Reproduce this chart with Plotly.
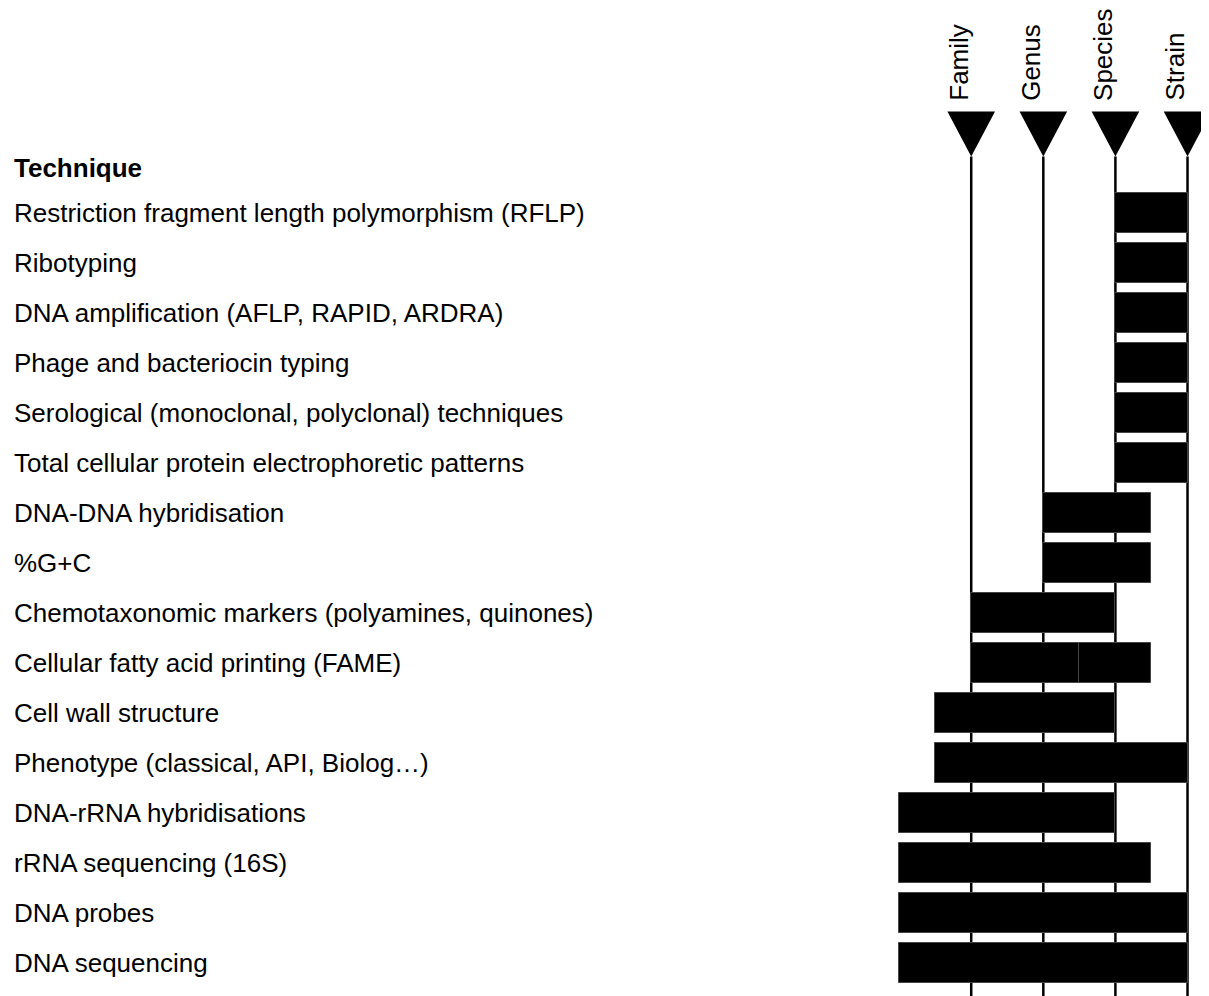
import plotly.graph_objects as go

# ---- data ----
techniques = [
    "Restriction fragment length polymorphism (RFLP)",
    "Ribotyping",
    "DNA amplification (AFLP, RAPID, ARDRA)",
    "Phage and bacteriocin typing",
    "Serological (monoclonal, polyclonal) techniques",
    "Total cellular protein electrophoretic patterns",
    "DNA-DNA hybridisation",
    "%G+C",
    "Chemotaxonomic markers (polyamines, quinones)",
    "Cellular fatty acid printing (FAME)",
    "Cell wall structure",
    "Phenotype (classical, API, Biolog\u2026)",
    "DNA-rRNA hybridisations",
    "rRNA sequencing (16S)",
    "DNA probes",
    "DNA sequencing",
]
# taxonomic resolution levels (x positions: Family=1 ... Strain=4)
levels = ["Family", "Genus", "Species", "Strain"]
level_pos = [1, 2, 3, 4]

# bar segments: row index, start, end (on the level scale)
seg_row = [0, 1, 2, 3, 4, 5, 6, 7, 8, 9, 9, 10, 11, 12, 13, 14, 15]
seg_start = [3, 3, 3, 3, 3, 3, 2, 2, 1, 1, 2.5, 0.5, 0.5, 0, 0, 0, 0]
seg_end = [4, 4, 4, 4, 4, 4, 3.5, 3.5, 3, 2.5, 3.5, 3, 4, 3, 3.5, 4, 4]

FONT = "Liberation Sans, Arial, sans-serif"
FS = 26

fig = go.Figure()

fig.add_trace(go.Bar(
    y=seg_row,
    x=[e - s for s, e in zip(seg_start, seg_end)],
    base=seg_start,
    orientation="h",
    width=0.8,
    marker=dict(color="black", line=dict(color="#444", width=1)),
    hoverinfo="skip",
    showlegend=False,
))

y_top_line = -1.13
y_bottom = 15.9
tri_top = -2.03
tri_half = 0.33

shapes = []
annotations = []
for lab, p in zip(levels, level_pos):
    shapes.append(dict(type="line", xref="x", yref="y", x0=p, x1=p,
                       y0=y_top_line, y1=y_bottom, layer="below",
                       line=dict(color="black", width=2.5)))
    shapes.append(dict(type="path", xref="x", yref="y",
                       path=f"M {p - tri_half},{tri_top} L {p + tri_half},{tri_top} L {p},{y_top_line} Z",
                       fillcolor="black", line=dict(color="black", width=0)))
    annotations.append(dict(x=p - 0.18, y=-2.2, xref="x", yref="y", text=lab,
                            textangle=-90, showarrow=False, xanchor="center",
                            yanchor="bottom", font=dict(family=FONT, size=FS, color="black")))

annotations.append(dict(x=4 / 1209, y=-0.9, xref="paper", yref="y",
                        text="<b>Technique</b>", showarrow=False, xanchor="left",
                        yanchor="middle", font=dict(family=FONT, size=FS, color="black")))
for i, t in enumerate(techniques):
    annotations.append(dict(x=4 / 1209, y=i, xref="paper", yref="y", text=t,
                            showarrow=False, xanchor="left", yanchor="middle",
                            font=dict(family=FONT, size=FS, color="black")))

fig.update_layout(
    width=1209, height=996,
    margin=dict(l=0, r=0, t=0, b=0),
    paper_bgcolor="white", plot_bgcolor="white",
    shapes=shapes, annotations=annotations,
    xaxis=dict(range=[-12.36, 4.409], visible=False, fixedrange=True),
    yaxis=dict(range=[15.82, -4.1], visible=False, fixedrange=True),
    bargap=0,
)

fig.write_html("out.html")
